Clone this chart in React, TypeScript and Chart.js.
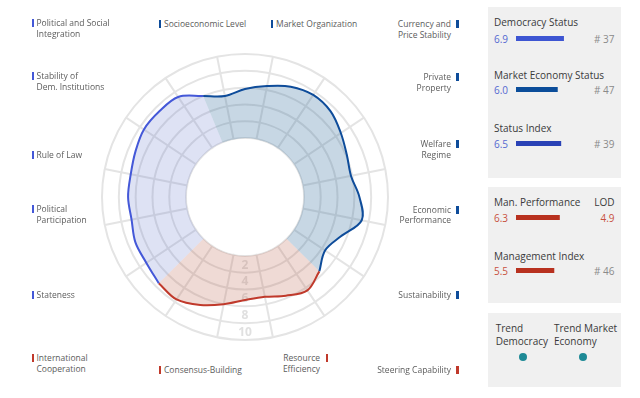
import React, { useEffect, useRef } from 'react';
import { Chart, registerables } from 'chart.js';

Chart.register(...registerables);

// ---------- data ----------
const CRITERIA = [
  'Socioeconomic Level',
  'Market Organization',
  'Currency and\nPrice Stability',
  'Private\nProperty',
  'Welfare\nRegime',
  'Economic\nPerformance',
  'Sustainability',
  'Steering Capability',
  'Resource\nEfficiency',
  'Consensus-Building',
  'International\nCooperation',
  'Stateness',
  'Political\nParticipation',
  'Rule of Law',
  'Stability of\nDem. Institutions',
  'Political and Social\nIntegration',
];
const CRITERIA_SECTION = [0, 0, 0, 0, 0, 0, 0, 1, 1, 1, 1, 2, 2, 2, 2, 2];
const SECTION_NAMES = ['Market Economy', 'Governance', 'Democracy'];
const SECTION_CRITERIA_COUNT = [7, 4, 5];

// profile, every half criterion, clockwise from each section border
const ECONOMY_CURVE = [6.0, 5.25, 5.85, 6.45, 7.2, 7.6, 7.4, 6.7, 6.1, 5.85, 6.6, 7.15, 5.3, 4.45, 5.5];
const GOVERNANCE_CURVE = [5.5, 6.35, 5.7, 5.1, 5.25, 6.0, 6.9, 7.65, 7.5];
const DEMOCRACY_CURVE = [7.5, 7.1, 7.1, 6.75, 6.9, 6.85, 7.1, 7.45, 7.4, 7.3, 6.0];
const SECTION_CURVES = [ECONOMY_CURVE, GOVERNANCE_CURVE, DEMOCRACY_CURVE];

const RING_TICKS = [0, 2, 4, 6, 8, 10];
const RING_LABELS = ['2', '4', '6', '8', '10'];

const STATUS_NAMES = ['Democracy Status', 'Market Economy Status', 'Status Index'];
const STATUS_SCORES = [6.9, 6.0, 6.5];
const STATUS_RANKS = ['# 37', '# 47', '# 39'];
const MANAGEMENT_NAMES = ['Man. Performance', 'Management Index'];
const MANAGEMENT_SCORES = [6.3, 5.5];
const MANAGEMENT_RIGHT = ['4.9', '# 46'];
const MANAGEMENT_RIGHT_HEAD = ['LOD', ''];
const TREND_NAMES = ['Trend\nDemocracy', 'Trend Market\nEconomy'];

// ---------- styles ----------
const FONT = '"Open Sans", "Noto Sans", sans-serif';
const GRID = '#e4e4e4';
const LINE_COLORS = ['#0e4c9a', '#c0392b', '#4458d8'];
const FILL_COLORS = ['rgba(40,100,150,0.26)', 'rgba(190,100,80,0.24)', 'rgba(90,110,200,0.2)'];
const MARK_COLORS = ['#0e4c9a', '#c0392b', '#4458d8'];
const STATUS_BAR_COLORS = ['#3d55d2', '#0b4d9a', '#2a42b6'];
const MAN_BAR_COLOR = '#b8311f';

// label layout: [anchorX, firstLineCenterY, align, barX]
const LABEL_LAYOUT: [number, number, 'left' | 'right', number][] = [
  [164, 24.3, 'left', 158.7],
  [276, 24.3, 'left', 270.7],
  [451, 24.3, 'right', 456],
  [451, 77.7, 'right', 456],
  [451, 144.5, 'right', 456],
  [451, 210, 'right', 456],
  [451, 295, 'right', 456],
  [451, 370, 'right', 456],
  [320, 358.3, 'right', 325.7],
  [164, 370, 'left', 158.7],
  [36.5, 358.7, 'left', 31.7],
  [36.5, 295, 'left', 31.7],
  [36.5, 209.5, 'left', 31.7],
  [36.5, 155, 'left', 31.7],
  [36.5, 76.7, 'left', 31.7],
  [36.5, 23.3, 'left', 31.7],
];

const holePlugin = {
  id: 'hole',
  beforeDatasetsDraw(chart: any) {
    const s = chart.scales.r;
    const ctx = chart.ctx;
    const r0 = s.getDistanceFromCenterForValue(0);
    ctx.save();
    ctx.beginPath();
    ctx.arc(s.xCenter, s.yCenter, r0 - 1, 0, Math.PI * 2);
    ctx.fillStyle = '#ffffff';
    ctx.fill();
    ctx.font = `bold 12px ${FONT}`;
    ctx.fillStyle = '#e0e0e0';
    ctx.textAlign = 'center';
    ctx.textBaseline = 'middle';
    RING_LABELS.forEach((lab) => {
      const d = s.getDistanceFromCenterForValue(Number(lab) - 0.9);
      ctx.fillText(lab, s.xCenter, s.yCenter + d);
    });
    ctx.restore();
  },
};

function MiniBar({ value, color, left, top }: { value: number; color: string; left: number; top: number }) {
  const ref = useRef<HTMLCanvasElement>(null);
  useEffect(() => {
    const chart = new Chart(ref.current as HTMLCanvasElement, {
      type: 'bar',
      data: {
        labels: [''],
        datasets: [{ data: [value], backgroundColor: color, borderWidth: 0, barPercentage: 1, categoryPercentage: 1 }],
      },
      options: {
        animation: false,
        responsive: false,
        indexAxis: 'y',
        layout: { padding: 0 },
        plugins: { legend: { display: false }, tooltip: { enabled: false } },
        scales: { x: { display: false, min: 0, max: 10 }, y: { display: false } },
      },
    } as any);
    return () => chart.destroy();
  }, [value, color]);
  return <canvas ref={ref} width={69} height={5} style={{ position: 'absolute', left, top, width: 69, height: 5 }} />;
}

function Txt({ x, y, children, align = 'left', size = 10, color = '#3a3a3a', lh = 13 }: any) {
  const style: any = {
    position: 'absolute',
    top: y - lh / 2,
    fontSize: size,
    lineHeight: `${lh}px`,
    color,
    whiteSpace: 'pre',
    textAlign: align,
  };
  if (align === 'right') style.right = 640 - x;
  else style.left = x;
  return <div style={style}>{children}</div>;
}

export default function App() {
  const ref = useRef<HTMLCanvasElement>(null);

  useEffect(() => {
    const steps = CRITERIA.length * 2;
    const labels = Array.from({ length: steps }, (_, i) => (i % 2 === 1 ? CRITERIA[(i - 1) / 2].replace('\n', ' ') : ''));
    let start = 0;
    const datasets = SECTION_CURVES.map((curve, s) => {
      const data: (number | null)[] = Array(steps).fill(null);
      curve.forEach((v, k) => {
        data[(start + k) % steps] = v;
      });
      start += SECTION_CRITERIA_COUNT[s] * 2;
      return {
        label: SECTION_NAMES[s],
        data,
        borderColor: LINE_COLORS[s],
        backgroundColor: FILL_COLORS[s],
        borderWidth: 2,
        pointRadius: 0,
        tension: 0.35,
        fill: { value: 0 },
        spanGaps: false,
      };
    });
    const chart = new Chart(ref.current as HTMLCanvasElement, {
      type: 'radar',
      data: { labels, datasets: [datasets[2], datasets[0], datasets[1]] },
      options: {
        animation: false,
        responsive: false,
        layout: { padding: 7 },
        plugins: { legend: { display: false }, tooltip: { enabled: false } },
        scales: {
          r: {
            min: -7,
            max: 10,
            startAngle: -22.5,
            afterBuildTicks: (axis: any) => {
              axis.ticks = RING_TICKS.map((v) => ({ value: v }));
            },
            ticks: { display: false },
            pointLabels: { display: false },
            grid: { circular: true, color: GRID, lineWidth: 2 },
            angleLines: {
              color: (c: any) => (c.index % 2 === 1 ? GRID : 'rgba(0,0,0,0)'),
              lineWidth: 2,
            },
          },
        },
      },
      plugins: [holePlugin],
    } as any);
    return () => chart.destroy();
  }, []);

  return (
    <div style={{ position: 'fixed', left: 0, top: 0, width: 640, height: 398, background: '#fff', fontFamily: FONT, overflow: 'hidden' }}>
      <canvas ref={ref} width={300} height={300} style={{ position: 'absolute', left: 95, top: 47, width: 300, height: 300 }} />

      {CRITERIA.map((name, i) => {
        const [ax, ay, align, bx] = LABEL_LAYOUT[i];
        const col = MARK_COLORS[CRITERIA_SECTION[i]];
        return (
          <React.Fragment key={name}>
            <div style={{ position: 'absolute', left: bx, top: ay - 4.5, width: 2.6, height: 8, background: col }} />
            <Txt x={ax} y={ay} align={align} size={8.5} color="#5c5c5c" lh={10.5}>
              {name}
            </Txt>
          </React.Fragment>
        );
      })}

      <div style={{ position: 'absolute', left: 488, top: 7, width: 133, height: 171, background: '#f0f0f0' }} />
      <div style={{ position: 'absolute', left: 488, top: 187, width: 133, height: 116, background: '#f0f0f0' }} />
      <div style={{ position: 'absolute', left: 488, top: 313, width: 133, height: 74, background: '#f0f0f0' }} />

      {STATUS_NAMES.map((n, i) => {
        const ty = [22.7, 75, 128.3][i];
        const vy = [39.3, 90.7, 144][i];
        return (
          <React.Fragment key={n}>
            <Txt x={494} y={ty}>{n}</Txt>
            <Txt x={494} y={vy} color="#5468d0">{STATUS_SCORES[i].toFixed(1)}</Txt>
            <MiniBar value={STATUS_SCORES[i]} color={STATUS_BAR_COLORS[i]} left={516} top={vy - 3.3} />
            <Txt x={614.5} y={vy} align="right" color="#8a8a8a">{STATUS_RANKS[i]}</Txt>
          </React.Fragment>
        );
      })}

      {MANAGEMENT_NAMES.map((n, i) => {
        const ty = [202.7, 256][i];
        const vy = [218.7, 271.7][i];
        return (
          <React.Fragment key={n}>
            <Txt x={494} y={ty}>{n}</Txt>
            {MANAGEMENT_RIGHT_HEAD[i] && <Txt x={614.5} y={ty} align="right">{MANAGEMENT_RIGHT_HEAD[i]}</Txt>}
            <Txt x={494} y={vy} color="#c8503e">{MANAGEMENT_SCORES[i].toFixed(1)}</Txt>
            <MiniBar value={MANAGEMENT_SCORES[i]} color={MAN_BAR_COLOR} left={516} top={vy - 3.3} />
            <Txt x={614.5} y={vy} align="right" color={i === 0 ? '#c8503e' : '#8a8a8a'}>{MANAGEMENT_RIGHT[i]}</Txt>
          </React.Fragment>
        );
      })}

      {TREND_NAMES.map((n, i) => {
        const x = [495.7, 554][i];
        const dx = [522.7, 582.7][i];
        return (
          <React.Fragment key={n}>
            <Txt x={x} y={328.3} lh={13.4}>{n}</Txt>
            <div style={{ position: 'absolute', left: dx - 4, top: 356.7 - 4, width: 8, height: 8, borderRadius: 4, background: '#1e8a96' }} />
          </React.Fragment>
        );
      })}
    </div>
  );
}
